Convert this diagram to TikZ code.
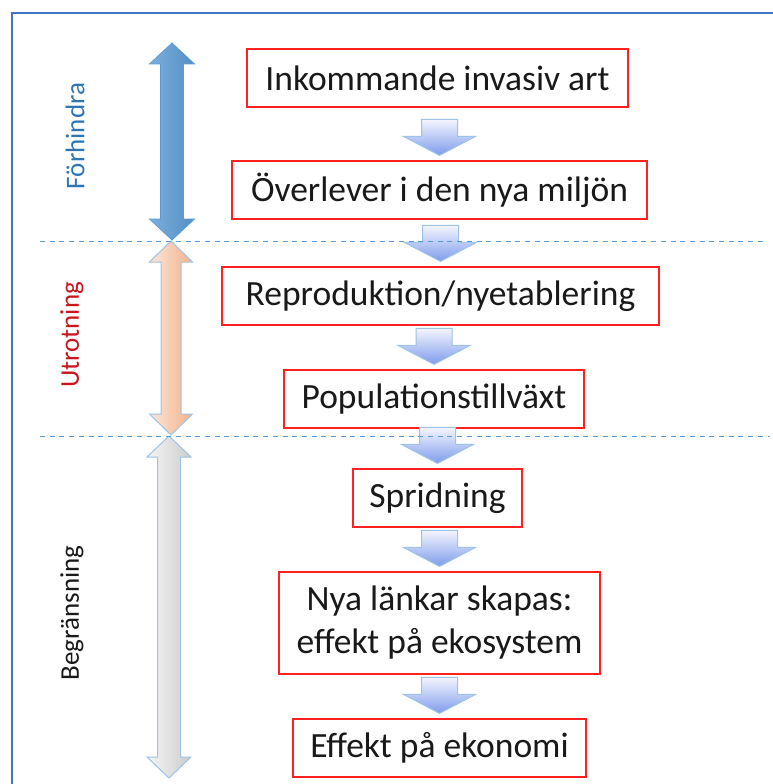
\documentclass[tikz,border=0pt]{standalone}
\usepackage{fontspec}
\setmainfont{Carlito}
\usepackage{tikz}
\usetikzlibrary{calc}
\definecolor{frameblue}{HTML}{4472C4}
\definecolor{boxred}{HTML}{FF2020}
\definecolor{paleblue}{HTML}{9DC3E6}
\definecolor{midblue}{HTML}{5B9BD5}
\definecolor{darkblue}{HTML}{2E75B6}
\definecolor{labelred}{HTML}{C8161D}
\definecolor{peachlight}{HTML}{FCE6D8}
\definecolor{peachdark}{HTML}{F2B18A}
\tikzstyle{stage}=[draw=boxred,line width=1.2pt,fill=white,inner sep=0pt,align=center,text=black!90,font=\fontsize{35.5}{43}\selectfont]
\tikzstyle{phase}=[rotate=90,font=\fontsize{27}{32}\selectfont]
\tikzstyle{flowarr}=[draw=paleblue,line width=1pt,top color=blue!4!white,bottom color=paleblue!80!blue]
\tikzstyle{sep}=[midblue,line width=1pt,dash pattern=on 5pt off 4.7pt]
\newcommand\flowarrow[2]{%
  \path[flowarr] let \p1=(#1.south), \p2=(#2.north) in
    (\x2,\y2+5pt) -- ++(-36,-19) -- ++(18,0) -- ++(0,-17) -- ++(36,0) -- ++(0,17) -- ++(18,0) -- cycle;}
\newcommand\phasearrow[6]{%
  \path[#1] (#2,#3) -- ({#2+#6},#3+21) -- ({#2+#5},#3+21) -- ({#2+#5},#4-21) -- ({#2+#6},#4-21)
    -- (#2,#4) -- ({#2-#6},#4-21) -- ({#2-#5},#4-21) -- ({#2-#5},#3+21) -- ({#2-#6},#3+21) -- cycle;}
\begin{document}
\begin{tikzpicture}[x=1pt,y=-1pt]
\useasboundingbox (0,0) rectangle (773,784);
\draw[frameblue,line width=1.6pt] (12,790) -- (12,13) -- (780,13);

\node[stage,minimum width=381pt,minimum height=58pt] (inkommande) at (437.5,78) {Inkommande invasiv art};
\node[stage,minimum width=415pt,minimum height=58pt] (overlever) at (439.5,190) {Överlever i den nya miljön};
\node[stage,minimum width=437pt,minimum height=58pt] (reproduktion) at (440.5,296) {Reproduktion/nyetablering};
\node[stage,minimum width=300pt,minimum height=58pt] (tillvaxt) at (434,399) {Populationstillväxt};
\node[stage,minimum width=169pt,minimum height=58pt] (spridning) at (437.5,498) {Spridning};
\node[stage,minimum width=321pt,minimum height=102pt] (lankar) at (439.5,623) {Nya länkar skapas:\\effekt på ekosystem};
\node[stage,minimum width=293pt,minimum height=58pt] (ekonomi) at (439.5,748) {Effekt på ekonomi};

\flowarrow{inkommande}{overlever}
\flowarrow{overlever}{reproduktion}
\flowarrow{reproduktion}{tillvaxt}
\flowarrow{tillvaxt}{spridning}
\flowarrow{spridning}{lankar}
\flowarrow{lankar}{ekonomi}

\phasearrow{draw=midblue,line width=0.8pt,left color=midblue!80!white,right color=midblue!92!black}{172}{43}{240}{11.5}{22.5}
\phasearrow{draw=paleblue,line width=1pt,left color=peachlight,right color=peachdark}{171}{241}{435}{10}{21.5}
\phasearrow{draw=paleblue,line width=1pt,left color=black!4,right color=black!20}{169}{436}{778}{11.5}{22}

\node[phase,text=darkblue] (forhindra) at (75,136) {Förhindra};
\node[phase,text=labelred] (utrotning) at (72,335) {Utrotning};
\node[phase,text=black!90] (begransning) at (72,613) {Begränsning};

\draw[sep] (40,241) -- (763,241);
\draw[sep] (40,436) -- (770,436);
\end{tikzpicture}
\end{document}
